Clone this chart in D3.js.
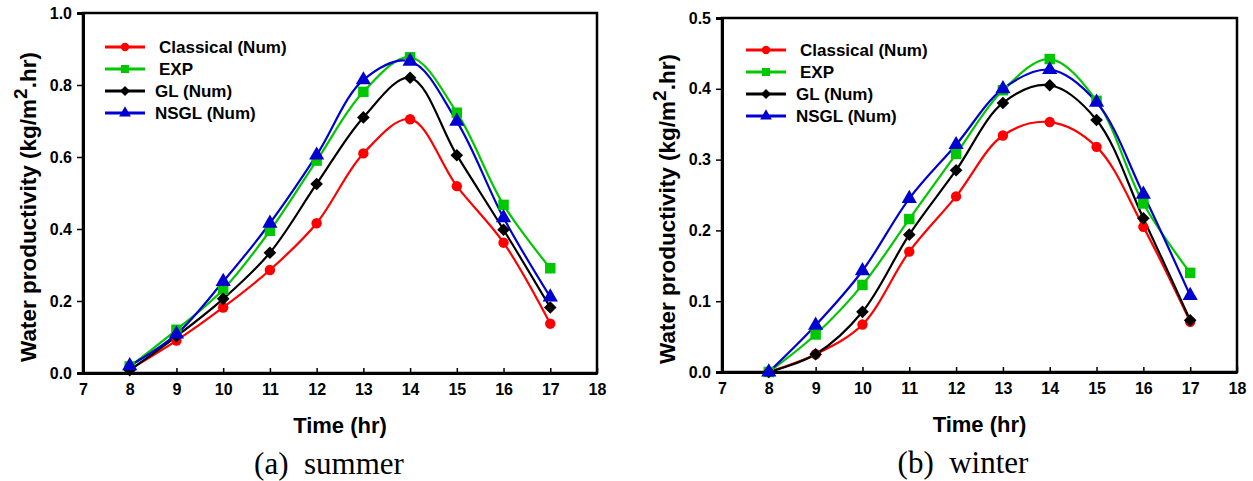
<!DOCTYPE html>
<html>
<head>
<meta charset="utf-8">
<script src="https://cdn.jsdelivr.net/npm/d3@7"></script>
<style>
  body { margin: 0; background: #fff; }
  svg { display: block; }
</style>
</head>
<body>
<svg width="1253" height="481"></svg>
<script>
// data
const hours = [8, 9, 10, 11, 12, 13, 14, 15, 16, 17];
const xTicks = [7, 8, 9, 10, 11, 12, 13, 14, 15, 16, 17, 18];
const seriesNames = ["Classical (Num)", "EXP", "GL (Num)", "NSGL (Num)"];

const summerClassical = [0.010, 0.090, 0.182, 0.286, 0.416, 0.610, 0.705, 0.519, 0.362, 0.137];
const summerExp = [0.018, 0.120, 0.232, 0.395, 0.590, 0.781, 0.877, 0.723, 0.467, 0.291];
const summerGL = [0.008, 0.102, 0.206, 0.334, 0.525, 0.710, 0.820, 0.605, 0.398, 0.182];
const summerNSGL = [0.020, 0.108, 0.254, 0.416, 0.605, 0.814, 0.866, 0.699, 0.431, 0.211];
const summerTicksY = [0.0, 0.2, 0.4, 0.6, 0.8, 1.0];

const winterClassical = [0.000, 0.025, 0.067, 0.170, 0.248, 0.334, 0.353, 0.318, 0.205, 0.071];
const winterExp = [0.000, 0.053, 0.123, 0.216, 0.308, 0.398, 0.442, 0.383, 0.238, 0.140];
const winterGL = [0.000, 0.025, 0.085, 0.194, 0.285, 0.380, 0.405, 0.356, 0.217, 0.073];
const winterNSGL = [0.000, 0.066, 0.143, 0.245, 0.321, 0.400, 0.427, 0.381, 0.251, 0.108];
const winterTicksY = [0.0, 0.1, 0.2, 0.3, 0.4, 0.5];

const colors = ["#ff0000", "#00c800", "#000000", "#0000d0"];
const symbols = [
    d3.symbol().type(d3.symbolCircle).size(85),
    d3.symbol().type(d3.symbolSquare).size(110),
    d3.symbol().type(d3.symbolSquare).size(80),
    d3.symbol().type(d3.symbolTriangle).size(100)
];
const legendSymbols = [
    d3.symbol().type(d3.symbolCircle).size(55),
    d3.symbol().type(d3.symbolSquare).size(65),
    d3.symbol().type(d3.symbolSquare).size(50),
    d3.symbol().type(d3.symbolTriangle).size(60)
];
const symbolRotate = [0, 0, 45, 0];
const sansFont = "Arial, 'Liberation Sans', sans-serif";

const svg = d3.select("svg");

function drawPanel(cfg) {
    const g = svg.append("g");

    const scX = d3.scaleLinear().domain([7, 18]).range([cfg.left, cfg.right]);
    const scY = d3.scaleLinear().domain(cfg.yDomain).range([cfg.bottom, cfg.top]);

    // frame
    g.append("rect")
        .attr("x", cfg.left).attr("y", cfg.top)
        .attr("width", cfg.right - cfg.left).attr("height", cfg.bottom - cfg.top)
        .attr("fill", "none").attr("stroke", "#000").attr("stroke-width", 2.5);

    // y axis (ticks outward)
    let axisY = d3.axisLeft(scY).tickValues(cfg.ticksY).tickFormat(d3.format(".1f"))
        .tickSize(6).tickPadding(5);
    g.append("g")
        .attr("transform", `translate(${cfg.left}, 0)`)
        .call(axisY)
        .call(a => a.select(".domain").attr("stroke-width", 3))
        .call(a => a.selectAll("line").attr("stroke-width", 1.5))
        .selectAll("text")
        .style("font-family", sansFont)
        .style("font-weight", "bold")
        .style("font-size", "16px")
        .attr("fill", "#000");

    // x axis (ticks inward)
    let axisX = d3.axisBottom(scX).tickValues(xTicks).tickFormat(d3.format("d"))
        .tickSizeInner(-5).tickSizeOuter(0).tickPadding(11);
    g.append("g")
        .attr("transform", `translate(0, ${cfg.bottom})`)
        .call(axisX)
        .call(a => a.select(".domain").attr("stroke-width", 3))
        .call(a => a.selectAll("line").attr("stroke-width", 1.5))
        .selectAll("text")
        .style("font-family", sansFont)
        .style("font-weight", "bold")
        .style("font-size", "16px")
        .attr("fill", "#000");

    // lines and markers
    const line = d3.line()
        .x(d => scX(d.x))
        .y(d => scY(d.y))
        .curve(d3.curveCatmullRom.alpha(0.5));

    cfg.series.forEach((vals, i) => {
        const pts = hours.map((h, j) => ({ x: h, y: vals[j] }));
        g.append("path")
            .datum(pts)
            .attr("fill", "none")
            .attr("stroke", colors[i])
            .attr("stroke-width", 2.2)
            .attr("d", line);
    });
    cfg.series.forEach((vals, i) => {
        const pts = hours.map((h, j) => ({ x: h, y: vals[j] }));
        g.selectAll(".m" + i)
            .data(pts)
            .enter()
            .append("path")
            .attr("d", symbols[i])
            .attr("transform", d => `translate(${scX(d.x)}, ${scY(d.y)}) rotate(${symbolRotate[i]})`)
            .attr("fill", colors[i]);
    });

    // legend
    seriesNames.forEach((name, i) => {
        const y = cfg.legendY + i * 22;
        g.append("line")
            .attr("x1", cfg.legendX).attr("x2", cfg.legendX + 40)
            .attr("y1", y).attr("y2", y)
            .attr("stroke", colors[i]).attr("stroke-width", 3);
        g.append("path")
            .attr("d", legendSymbols[i])
            .attr("transform", `translate(${cfg.legendX + 20}, ${y}) rotate(${symbolRotate[i]})`)
            .attr("fill", colors[i]);
        g.append("text")
            .attr("x", cfg.legendX + 50 + (i < 2 ? 4 : 0))
            .attr("y", y)
            .attr("dy", "0.36em")
            .style("font-family", sansFont)
            .style("font-weight", "bold")
            .style("font-size", "17px")
            .text(name);
    });

    // axis titles
    const midY = (cfg.top + cfg.bottom) / 2 + 14;
    const yTitle = g.append("text")
        .attr("transform", `translate(${cfg.left - 47}, ${midY}) rotate(-90)`)
        .attr("text-anchor", "middle")
        .style("font-family", sansFont)
        .style("font-weight", "bold")
        .style("font-size", "22.5px");
    yTitle.append("tspan").text("Water productivity (kg/m");
    yTitle.append("tspan").attr("dy", -9).style("font-size", "19px").text("2");
    yTitle.append("tspan").attr("dy", 9).text(".hr)");

    g.append("text")
        .attr("x", (cfg.left + cfg.right) / 2)
        .attr("y", cfg.bottom + 60)
        .attr("text-anchor", "middle")
        .style("font-family", sansFont)
        .style("font-weight", "bold")
        .style("font-size", "22px")
        .text("Time (hr)");

    g.append("text")
        .attr("x", cfg.captionX)
        .attr("y", cfg.bottom + 101)
        .attr("text-anchor", "middle")
        .attr("xml:space", "preserve")
        .style("font-family", "'Times New Roman', 'Liberation Serif', serif")
        .style("font-size", "31px")
        .text(cfg.caption);
}

drawPanel({
    left: 83, right: 597, top: 13, bottom: 373,
    yDomain: [0, 1], ticksY: summerTicksY,
    series: [summerClassical, summerExp, summerGL, summerNSGL],
    legendX: 105, legendY: 47,
    caption: "(a)  summer", captionX: 329
});

drawPanel({
    left: 722, right: 1237, top: 18, bottom: 372,
    yDomain: [0, 0.5], ticksY: winterTicksY,
    series: [winterClassical, winterExp, winterGL, winterNSGL],
    legendX: 746, legendY: 50,
    caption: "(b)  winter", captionX: 963
});
</script>
</body>
</html>
